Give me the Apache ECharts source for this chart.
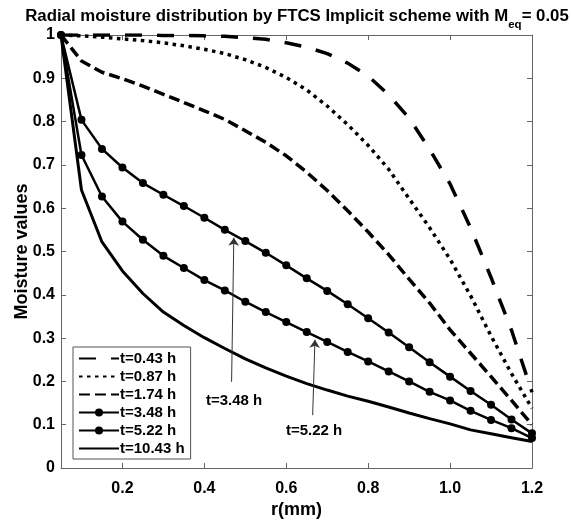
<!DOCTYPE html>
<html>
<head>
<meta charset="utf-8">
<script src="https://cdn.jsdelivr.net/npm/echarts@6/dist/echarts.min.js"></script>
<style>
  html, body { margin: 0; padding: 0; background: #fff; }
  #chart { width: 571px; height: 520px; }
</style>
</head>
<body>
<div id="chart"></div>
<script>
// radius grid (mm)
const radius = [0.05, 0.10, 0.15, 0.20, 0.25, 0.30, 0.35, 0.40, 0.45, 0.50, 0.55, 0.60,
                0.65, 0.70, 0.75, 0.80, 0.85, 0.90, 0.95, 1.00, 1.05, 1.10, 1.15, 1.20]

// moisture values per time step
const m043 = [1, 1, 1, 1, 1, 0.999, 0.999, 0.998, 0.997, 0.994, 0.990, 0.982,
              0.972, 0.957, 0.935, 0.905, 0.862, 0.808, 0.736, 0.656, 0.555, 0.440, 0.318, 0.175]
const m087 = [1, 0.998, 0.995, 0.991, 0.987, 0.982, 0.975, 0.967, 0.957, 0.943, 0.925, 0.902,
              0.873, 0.836, 0.793, 0.745, 0.690, 0.622, 0.555, 0.482, 0.398, 0.305, 0.218, 0.138]
const m174 = [1, 0.940, 0.914, 0.899, 0.882, 0.863, 0.844, 0.825, 0.805, 0.779, 0.752, 0.721,
              0.683, 0.641, 0.594, 0.545, 0.493, 0.436, 0.381, 0.319, 0.265, 0.211, 0.156, 0.100]
const m348 = [1, 0.804, 0.737, 0.694, 0.658, 0.631, 0.605, 0.578, 0.550, 0.524, 0.497, 0.468,
              0.438, 0.409, 0.378, 0.346, 0.313, 0.279, 0.244, 0.211, 0.178, 0.146, 0.112, 0.080]
const m522 = [1, 0.723, 0.627, 0.569, 0.527, 0.490, 0.462, 0.434, 0.410, 0.384, 0.360, 0.337,
              0.314, 0.291, 0.268, 0.246, 0.223, 0.200, 0.176, 0.156, 0.132, 0.111, 0.092, 0.069]
const m1043 = [1, 0.642, 0.522, 0.455, 0.403, 0.360, 0.329, 0.301, 0.276, 0.252, 0.231, 0.212,
               0.195, 0.180, 0.166, 0.154, 0.141, 0.127, 0.114, 0.102, 0.088, 0.079, 0.070, 0.061]

const seriesNames = ['t=0.43 h', 't=0.87 h', 't=1.74 h', 't=3.48 h', 't=5.22 h', 't=10.43 h']
const withMarkers = ['t=3.48 h', 't=5.22 h']

const xTickValues = [0.2, 0.4, 0.6, 0.8, 1.0, 1.2]
const xTickLabels = ['0.2', '0.4', '0.6', '0.8', '1.0', '1.2']
const yTickLabels = ['0', '0.1', '0.2', '0.3', '0.4', '0.5', '0.6', '0.7', '0.8', '0.9', '1']

// arrow annotations (data coords)
const note348 = { text: 't=3.48 h', from: [0.4665, 0.199], to: [0.472, 0.532], at: [0.4725, 0.156] }
const note522 = { text: 't=5.22 h', from: [0.6645, 0.122], to: [0.670, 0.296], at: [0.668, 0.085] }

const FONT = '"Liberation Sans", Arial, Helvetica, sans-serif'
const AXIS_GREY = '#666'

const pairs = (ys) => radius.map((r, i) => [r, ys[i]])

const arrowOpts = (note) => ({
  silent: true,
  animation: false,
  symbol: ['none', 'arrow'],
  symbolSize: 8,
  lineStyle: { color: '#333', width: 1, type: 'solid' },
  label: { show: false },
  data: [[{ coord: note.from }, { coord: note.to }]]
})

const textOpts = (note) => ({
  silent: true,
  animation: false,
  symbol: 'rect',
  symbolSize: 1,
  itemStyle: { color: 'rgba(0,0,0,0)' },
  label: {
    show: true, position: 'inside', formatter: '{b}',
    color: '#000', fontSize: 15, fontWeight: 'bold', fontFamily: FONT
  },
  data: [{ name: note.text, coord: note.at }]
})

const baseLine = (name, ys, lineStyle, extra) => Object.assign({
  name,
  type: 'line',
  data: pairs(ys),
  symbol: 'none',
  smooth: false,
  lineStyle: Object.assign({ color: '#000', cap: 'butt' }, lineStyle),
  itemStyle: { color: '#000' },
  animation: false
}, extra || {})

const axisTickCommon = {
  inside: true,
  length: 5,
  lineStyle: { color: AXIS_GREY, width: 1 }
}

const chart = echarts.init(document.getElementById('chart'))

const options = {
  backgroundColor: '#fff',
  title: {
    text: '{a|Radial moisture distribution by FTCS Implicit scheme with M}{s|eq}{a|= 0.05}',
    left: 297,
    top: 6,
    padding: 0,
    textAlign: 'center',
    textStyle: {
      rich: {
        a: { fontSize: 16.8, fontWeight: 'bold', fontFamily: FONT, color: '#000', lineHeight: 20 },
        s: { fontSize: 11.5, fontWeight: 'bold', fontFamily: FONT, color: '#000', lineHeight: 12, padding: [17, 0, 0, 0] }
      }
    }
  },
  legend: {
    data: seriesNames.map(n => withMarkers.includes(n)
      ? { name: n }
      : { name: n, itemStyle: { opacity: 0 } }),
    orient: 'vertical',
    left: 73,
    top: 347,
    itemWidth: 40,
    itemHeight: 10,
    itemGap: 3,
    padding: [4, 6, 3, 5],
    borderColor: '#555',
    borderWidth: 1,
    backgroundColor: '#fff',
    selectedMode: false,
    textStyle: { fontSize: 15, lineHeight: 15, fontWeight: 'bold', fontFamily: FONT, color: '#000', padding: [0, 0, 0, -4] }
  },
  grid: { left: 61, right: 39, top: 35, bottom: 52, outerBoundsMode: 'none', containLabel: false },
  xAxis: [
    {
      type: 'value',
      min: 0.05,
      max: 1.2,
      position: 'bottom',
      name: 'r(mm)',
      nameLocation: 'middle',
      nameGap: 33,
      nameMoveOverlap: false,
      nameTextStyle: { fontSize: 18, fontWeight: 'bold', fontFamily: FONT, color: '#000' },
      axisLine: { show: true, onZero: false, lineStyle: { color: AXIS_GREY, width: 1 } },
      axisTick: Object.assign({ customValues: xTickValues }, axisTickCommon),
      axisLabel: {
        customValues: xTickValues,
        formatter: (v) => xTickLabels[xTickValues.findIndex(t => Math.abs(t - v) < 1e-6)] || '',
        fontSize: 16, fontWeight: 'bold', fontFamily: FONT, color: '#000', margin: 13
      },
      splitLine: { show: false }
    },
    {
      type: 'value',
      min: 0.05,
      max: 1.2,
      position: 'top',
      axisLine: { show: true, onZero: false, lineStyle: { color: AXIS_GREY, width: 1 } },
      axisTick: Object.assign({ customValues: xTickValues }, axisTickCommon),
      axisLabel: { show: false },
      splitLine: { show: false }
    }
  ],
  yAxis: [
    {
      type: 'value',
      min: 0,
      max: 1,
      interval: 0.1,
      position: 'left',
      name: 'Moisture values',
      nameLocation: 'middle',
      nameGap: 30,
      nameMoveOverlap: false,
      nameTextStyle: { fontSize: 18, fontWeight: 'bold', fontFamily: FONT, color: '#000' },
      axisLine: { show: true, onZero: false, lineStyle: { color: AXIS_GREY, width: 1 } },
      axisTick: axisTickCommon,
      axisLabel: {
        formatter: (v) => yTickLabels[Math.round(v * 10)],
        fontSize: 16, fontWeight: 'bold', fontFamily: FONT, color: '#000', margin: 6
      },
      splitLine: { show: false }
    },
    {
      type: 'value',
      min: 0,
      max: 1,
      interval: 0.1,
      position: 'right',
      axisLine: { show: true, onZero: false, lineStyle: { color: AXIS_GREY, width: 1 } },
      axisTick: axisTickCommon,
      axisLabel: { show: false },
      splitLine: { show: false }
    }
  ],
  series: [
    baseLine(seriesNames[0], m043, { width: 3.5, type: [17, 15] }),
    baseLine(seriesNames[1], m087, { width: 3.5, type: [3.5, 4.5] }),
    baseLine(seriesNames[2], m174, { width: 3.5, type: [11, 5] }),
    baseLine(seriesNames[3], m348, { width: 2.5, type: 'solid' },
      { symbol: 'circle', symbolSize: 8, showSymbol: true,
        markLine: arrowOpts(note348), markPoint: textOpts(note348) }),
    baseLine(seriesNames[4], m522, { width: 2.5, type: 'solid' },
      { symbol: 'circle', symbolSize: 8, showSymbol: true,
        markLine: arrowOpts(note522), markPoint: textOpts(note522) }),
    baseLine(seriesNames[5], m1043, { width: 3, type: 'solid' })
  ]
}

chart.setOption(options)
window.addEventListener('resize', () => chart.resize())
</script>
</body>
</html>
